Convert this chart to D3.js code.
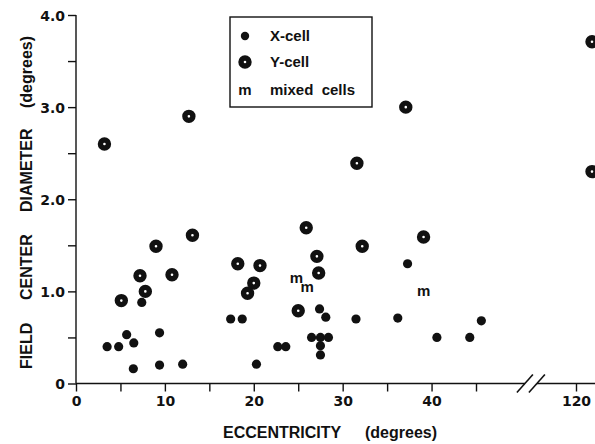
<!DOCTYPE html>
<html>
<head>
<meta charset="utf-8">
<script src="https://cdn.jsdelivr.net/npm/d3@7"></script>
<style>
  body { margin: 0; background: #fff; }
  svg text { font-family: "Liberation Sans", Arial, sans-serif; font-weight: bold; fill: #111; }
</style>
</head>
<body>
<svg id="chart" width="595" height="444"></svg>
<script>
// DATA (eccentricity, field center diameter) in degrees
let xCellEcc = [3.5, 4.8, 5.7, 6.5, 6.45, 7.4, 9.4, 9.4, 12.0, 17.4, 18.7, 20.3, 22.7, 23.6,
                26.5, 27.5, 28.4, 27.5, 27.5, 27.4, 28.1, 31.5, 36.2, 37.3, 40.6, 44.3, 45.6]
let xCellDia = [0.40, 0.40, 0.53, 0.44, 0.16, 0.88, 0.55, 0.20, 0.21, 0.70, 0.70, 0.21, 0.40, 0.40,
                0.50, 0.50, 0.50, 0.41, 0.31, 0.81, 0.72, 0.70, 0.71, 1.30, 0.50, 0.50, 0.68]

let yCellEcc = [3.2, 12.7, 37.1, 31.6, 13.1, 9.0, 7.2, 10.8, 7.8, 5.1, 18.2, 20.7, 20.0, 19.3, 25.0,
                25.9, 27.1, 27.3, 32.2, 39.1, 121.8, 121.8]
let yCellDia = [2.60, 2.90, 3.00, 2.39, 1.61, 1.49, 1.17, 1.18, 1.00, 0.90, 1.30, 1.28, 1.09, 0.98, 0.79,
                1.69, 1.38, 1.20, 1.49, 1.59, 3.71, 2.30]

let mixedEcc = [24.8, 26.0, 39.1]
let mixedDia = [1.14, 1.04, 1.00]

let xMajorTicks = [0, 10, 20, 30, 40, 120]
let xMinorTicks = [5, 15, 25, 35, 45]
let yMajorTicks = [0, 1, 2, 3, 4]
let yMinorTicks = [0.5, 1.5, 2.5, 3.5]

let legendLabels = ['X-cell', 'Y-cell', 'mixed\u00A0\u00A0cells']

// SCALES (broken x axis between 50.5 and 115.6)
let k = 8.889
let x = d3.scaleLinear()
    .domain([0, 50.5, 115.6, 122])
    .range([76, 76 + 50.5 * k, 576 - 4.4 * k, 576 + 2 * k])
let y = d3.scaleLinear()
    .domain([0, 4])
    .range([383.5, 15])

let svg = d3.select('#chart')
let ink = '#111'

// Y AXIS
let yAxis = d3.axisLeft(y)
    .tickValues(yMajorTicks.concat(yMinorTicks))
    .tickSize(8)
    .tickFormat(d => yMajorTicks.includes(d) ? (d === 0 ? '0' : d3.format('.1f')(d)) : '')
let gy = svg.append('g')
    .attr('transform', 'translate(76,0)')
    .call(yAxis)
gy.select('.domain').remove()
gy.selectAll('line').attr('stroke', ink).attr('stroke-width', 1.4)
gy.selectAll('text')
    .attr('x', -11)
    .attr('dy', '0.36em')
    .style('font-family', '"DejaVu Sans", sans-serif')
    .style('font-size', '14px')
    .style('font-weight', 'bold')
    .attr('fill', ink)
svg.append('line')
    .attr('x1', 76).attr('x2', 76)
    .attr('y1', y(4)).attr('y2', y(0))
    .attr('stroke', ink).attr('stroke-width', 1.4)

// X AXIS
let xAxis = d3.axisBottom(x)
    .tickValues(xMajorTicks.concat(xMinorTicks))
    .tickSize(8)
    .tickFormat(d => xMajorTicks.includes(d) ? d : '')
let gx = svg.append('g')
    .attr('transform', `translate(0,${y(0)})`)
    .call(xAxis)
gx.select('.domain').remove()
gx.selectAll('line').attr('stroke', ink).attr('stroke-width', 1.4)
gx.selectAll('text')
    .attr('y', 13)
    .attr('dy', '0.71em')
    .style('font-family', '"DejaVu Sans", sans-serif')
    .style('font-size', '14px')
    .style('font-weight', 'bold')
    .attr('fill', ink)

// axis line with break
svg.append('line')
    .attr('x1', x(0)).attr('x2', x(50.5))
    .attr('y1', y(0)).attr('y2', y(0))
    .attr('stroke', ink).attr('stroke-width', 1.4)
svg.append('line')
    .attr('x1', x(115.6)).attr('x2', 595)
    .attr('y1', y(0)).attr('y2', y(0))
    .attr('stroke', ink).attr('stroke-width', 1.4)
;[x(50.5), x(115.6)].forEach(cx => {
    svg.append('line')
        .attr('x1', cx - 8).attr('y1', y(0) + 9)
        .attr('x2', cx + 8).attr('y2', y(0) - 9)
        .attr('stroke', ink).attr('stroke-width', 1.6)
})

// AXIS TITLES
svg.append('text')
    .attr('x', 223).attr('y', 438)
    .style('font-size', '16px')
    .text('ECCENTRICITY')
svg.append('text')
    .attr('x', 365).attr('y', 438)
    .style('font-size', '16px')
    .text('(degrees)')

let yTitle = [['FIELD', 369], ['CENTER', 300], ['DIAMETER', 212], ['(degrees)', 108]]
yTitle.forEach(([word, start]) => {
    svg.append('text')
        .attr('transform', `translate(32,${start}) rotate(-90)`)
        .style('font-size', '16px')
        .text(word)
})

// MARKERS
let gPts = svg.append('g')

gPts.selectAll('.xcell')
    .data(xCellEcc.map((e, i) => ({ecc: e, dia: xCellDia[i]})))
    .join('circle')
    .classed('xcell', true)
    .attr('cx', d => x(d.ecc))
    .attr('cy', d => y(d.dia))
    .attr('r', 4.6)
    .attr('fill', ink)

gPts.selectAll('.ycell')
    .data(yCellEcc.map((e, i) => ({ecc: e, dia: yCellDia[i]})))
    .join('circle')
    .classed('ycell', true)
    .attr('cx', d => x(d.ecc))
    .attr('cy', d => y(d.dia))
    .attr('r', 4)
    .attr('fill', '#fff')
    .attr('stroke', ink)
    .attr('stroke-width', 5.4)

gPts.selectAll('.mixed')
    .data(mixedEcc.map((e, i) => ({ecc: e, dia: mixedDia[i]})))
    .join('text')
    .classed('mixed', true)
    .attr('x', d => x(d.ecc))
    .attr('y', d => y(d.dia))
    .attr('dy', '0.3em')
    .attr('text-anchor', 'middle')
    .style('font-size', '15px')
    .text('m')

// LEGEND
let legend = svg.append('g')
legend.append('rect')
    .attr('x', 230).attr('y', 17)
    .attr('width', 142).attr('height', 90)
    .attr('fill', '#fff')
    .attr('stroke', ink)
    .attr('stroke-width', 1.4)

let legendY = [36, 62, 90]
legend.append('circle')
    .attr('cx', 245).attr('cy', legendY[0]).attr('r', 4.2).attr('fill', ink)
legend.append('circle')
    .attr('cx', 245).attr('cy', legendY[1]).attr('r', 4)
    .attr('fill', '#fff').attr('stroke', ink).attr('stroke-width', 5.4)
legend.append('text')
    .attr('x', 245).attr('y', legendY[2]).attr('dy', '0.35em')
    .attr('text-anchor', 'middle')
    .style('font-size', '15px')
    .text('m')

legend.selectAll('.leg-label')
    .data(legendLabels)
    .join('text')
    .classed('leg-label', true)
    .attr('x', 270)
    .attr('y', (d, i) => legendY[i])
    .attr('dy', '0.36em')
    .style('font-size', '15px')
    .text(d => d)
</script>
</body>
</html>
